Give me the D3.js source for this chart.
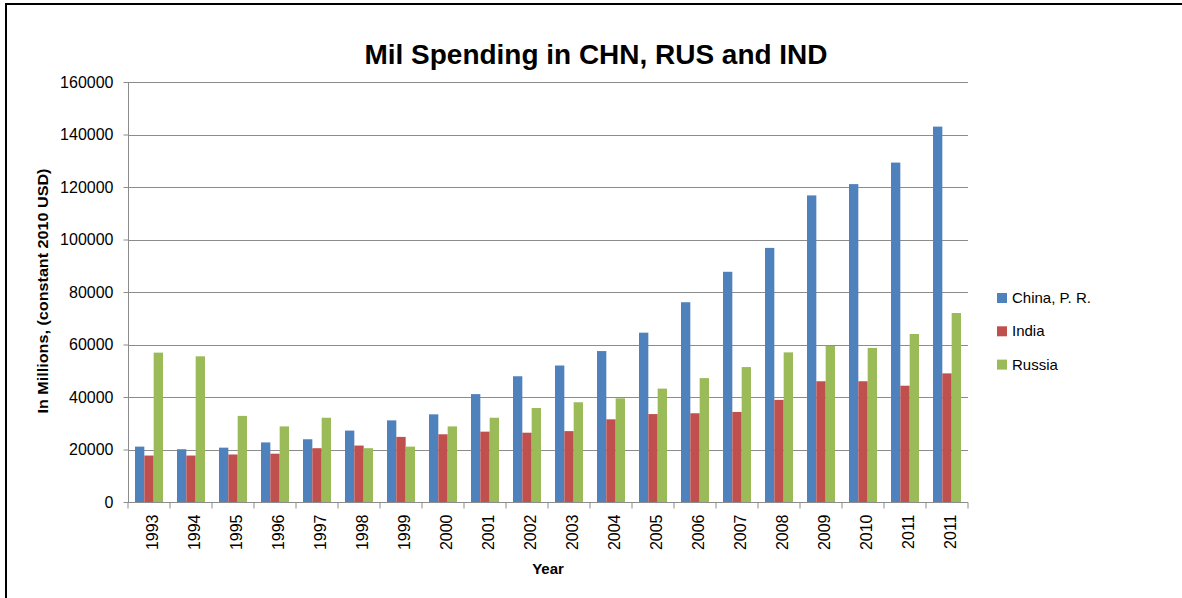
<!DOCTYPE html>
<html>
<head>
<meta charset="utf-8">
<script src="https://cdn.jsdelivr.net/npm/d3@7"></script>
<style>
  html, body { margin: 0; padding: 0; background: #fff; }
  svg { display: block; }
  text { font-family: "Liberation Sans", Arial, sans-serif; fill: #000; }
</style>
</head>
<body>
<svg id="chart" width="1182" height="598"></svg>
<script>
// ---- data ----
const categories = ["1993","1994","1995","1996","1997","1998","1999","2000","2001","2002",
                    "2003","2004","2005","2006","2007","2008","2009","2010","2011","2011"];
const seriesNames = ["China, P. R.", "India", "Russia"];
const china  = [21100,20100,20700,22700,23900,27200,31100,33400,41100,47900,
                52000,57500,64500,76100,87700,96800,116800,121100,129300,143000];
const india  = [17700,17700,18100,18400,20500,21500,24800,25800,26800,26400,
                27000,31500,33500,33800,34300,38900,46000,46000,44300,49000];
const russia = [56900,55500,32800,28800,32100,20500,21100,28800,32100,35800,
                38000,39500,43200,47200,51400,57000,59500,58700,64000,72000];
const yTicks = [0,20000,40000,60000,80000,100000,120000,140000,160000];
const colors = ["#4F81BD", "#C0504D", "#9BBB59"];

const svg = d3.select("#chart");
const W = 1182, H = 598;
const plot = { left: 128, right: 968, top: 82, bottom: 502 };

// outer border
svg.append("rect").attr("x", 6).attr("y", 4).attr("width", W + 20).attr("height", H + 20)
  .attr("fill", "#fff").attr("stroke", "#000").attr("stroke-width", 2);

const idx = categories.map((d, i) => i);
const x0 = d3.scaleBand().domain(idx).range([plot.left, plot.right]).paddingInner(1.5/4.5).paddingOuter(0.75/4.5);
const xCat = d3.scaleBand().domain(idx).range([plot.left, plot.right]).padding(0);
const x1 = d3.scaleBand().domain(d3.range(3)).range([0, x0.bandwidth()]).padding(0);
const y = d3.scaleLinear().domain([0, 160000]).range([plot.bottom, plot.top]);

// gridlines
svg.append("g").selectAll("line").data(yTicks.filter(d => d > 0)).join("line")
  .attr("x1", plot.left).attr("x2", plot.right)
  .attr("y1", d => Math.round(y(d)) + 0.5).attr("y2", d => Math.round(y(d)) + 0.5)
  .attr("stroke", "#8c8c8c").attr("stroke-width", 1);

// bars
const data = [china, india, russia];
const g = svg.append("g");
data.forEach((vals, s) => {
  g.selectAll(null).data(vals).join("rect")
    .attr("x", (d, i) => x0(i) + x1(s))
    .attr("width", x1.bandwidth())
    .attr("y", d => y(d))
    .attr("height", d => y(0) - y(d))
    .attr("fill", colors[s]);
});

// y axis
const yAxis = d3.axisLeft(y).tickValues(yTicks).tickSize(5).tickPadding(10).tickFormat(d3.format("d"));
const ya = svg.append("g").attr("transform", `translate(${plot.left + 0.5},0)`).call(yAxis);
ya.selectAll("path, line").attr("stroke", "#8c8c8c");
ya.select(".domain").attr("d", `M0,${plot.top}V${plot.bottom}`);
ya.selectAll("text").style("font-size", "16px").style("font-family", "'Liberation Sans', Arial, sans-serif").attr("fill", "#000");

// x axis
const xAxis = d3.axisBottom(xCat).tickSize(6).tickFormat(i => categories[i]);
const xa = svg.append("g").attr("transform", `translate(0,${plot.bottom + 0.5})`).call(xAxis);
xa.selectAll("path, line").attr("stroke", "#8c8c8c");
xa.select(".domain").attr("d", `M${plot.left},0H${plot.right}`);
// ticks at category boundaries
xa.selectAll(".tick line").attr("x1", -xCat.bandwidth()/2).attr("x2", -xCat.bandwidth()/2);
xa.append("line").attr("x1", plot.right).attr("x2", plot.right).attr("y1", 0).attr("y2", 6).attr("stroke", "#8c8c8c");
xa.selectAll(".tick text")
  .style("font-size", "16px").style("font-family", "'Liberation Sans', Arial, sans-serif").attr("fill", "#000")
  .attr("transform", "rotate(-90)")
  .attr("text-anchor", "end")
  .attr("x", -12).attr("y", 0).attr("dy", "0.35em")
  .attr("dx", 0);
xa.selectAll(".tick text").each(function() {
  d3.select(this).attr("transform", "translate(3,0) rotate(-90)");
});

// title
svg.append("text").attr("x", 596).attr("y", 64).attr("text-anchor", "middle")
  .style("font-size", "28px").style("font-weight", "bold")
  .attr("textLength", 463).attr("lengthAdjust", "spacingAndGlyphs")
  .text("Mil Spending in CHN, RUS and IND");

// axis titles
svg.append("text").attr("transform", "translate(48,291) rotate(-90)").attr("text-anchor", "middle")
  .style("font-size", "14px").style("font-weight", "bold")
  .attr("textLength", 245).attr("lengthAdjust", "spacingAndGlyphs")
  .text("In Millions, (constant 2010 USD)");
svg.append("text").attr("x", 548).attr("y", 574).attr("text-anchor", "middle")
  .style("font-size", "15px").style("font-weight", "bold").text("Year");

// legend
const lg = svg.append("g");
seriesNames.forEach((name, i) => {
  const yy = 293 + i * 33.3;
  lg.append("rect").attr("x", 997).attr("y", yy).attr("width", 10).attr("height", 10).attr("fill", colors[i]);
  lg.append("text").attr("x", 1012).attr("y", yy + 10).style("font-size", "15px").text(name);
});
</script>
</body>
</html>
